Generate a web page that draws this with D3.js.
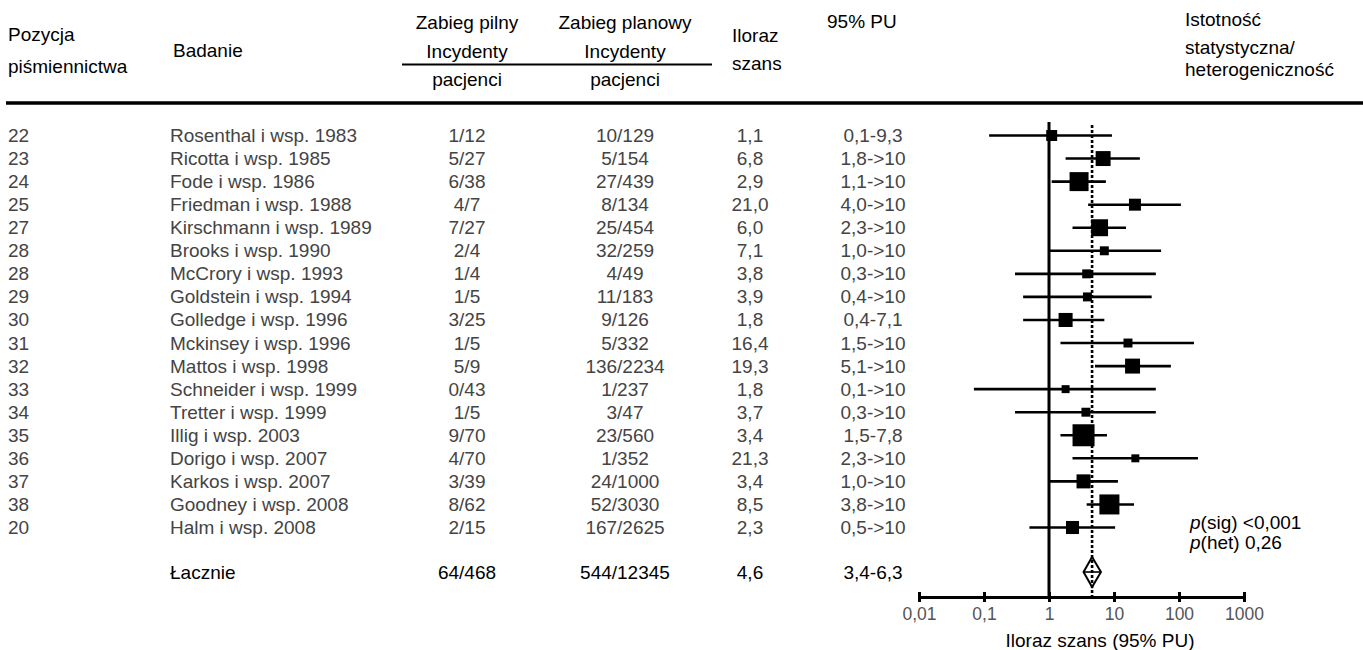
<!DOCTYPE html>
<html lang="pl">
<head>
<meta charset="utf-8">
<script src="https://cdn.jsdelivr.net/npm/d3@7/dist/d3.min.js"></script>
<style>
  html, body { margin: 0; padding: 0; background: #fff; }
  svg { display: block; }
  .hdr { font-family: "Liberation Sans", Arial, sans-serif; font-size: 19px; fill: #000; }
  .row { font-family: "Liberation Sans", Arial, sans-serif; font-size: 19px; fill: #444; }
  .tick text { font-family: "Liberation Sans", Arial, sans-serif; font-size: 17.5px; fill: #555; }
</style>
</head>
<body>
<svg id="chart" width="1363" height="650"></svg>
<script>
// Study table
const refs = ["22","23","24","25","27","28","28","29","30","31","32","33","34","35","36","37","38","20"];
const studies = [
  "Rosenthal i wsp. 1983","Ricotta i wsp. 1985","Fode i wsp. 1986","Friedman i wsp. 1988",
  "Kirschmann i wsp. 1989","Brooks i wsp. 1990","McCrory i wsp. 1993","Goldstein i wsp. 1994",
  "Golledge i wsp. 1996","Mckinsey i wsp. 1996","Mattos i wsp. 1998","Schneider i wsp. 1999",
  "Tretter i wsp. 1999","Illig i wsp. 2003","Dorigo i wsp. 2007","Karkos i wsp. 2007",
  "Goodney i wsp. 2008","Halm i wsp. 2008"
];
const urgentEvents = ["1/12","5/27","6/38","4/7","7/27","2/4","1/4","1/5","3/25","1/5","5/9","0/43","1/5","9/70","4/70","3/39","8/62","2/15"];
const electiveEvents = ["10/129","5/154","27/439","8/134","25/454","32/259","4/49","11/183","9/126","5/332","136/2234","1/237","3/47","23/560","1/352","24/1000","52/3030","167/2625"];
const oddsRatios = [1.1, 6.8, 2.9, 21.0, 6.0, 7.1, 3.8, 3.9, 1.8, 16.4, 19.3, 1.8, 3.7, 3.4, 21.3, 3.4, 8.5, 2.3];
const ciLower = [0.12, 1.8, 1.1, 4.0, 2.3, 1.0, 0.3, 0.4, 0.4, 1.5, 5.1, 0.07, 0.3, 1.5, 2.3, 1.0, 3.8, 0.5];
const ciUpper = [9.3, 25, 7.5, 107, 15.3, 53, 44, 38, 7.1, 170, 75, 44, 44, 7.8, 196, 11.5, 20.3, 10.4];
const ciLabels = ["0,1-9,3","1,8->10","1,1->10","4,0->10","2,3->10","1,0->10","0,3->10","0,4->10","0,4-7,1","1,5->10","5,1->10","0,1->10","0,3->10","1,5-7,8","2,3->10","1,0->10","3,8->10","0,5->10"];
const weights = [3.6, 6.7, 10.8, 4.3, 8.6, 2.4, 2.4, 2.4, 5.9, 2.4, 6.7, 1.9, 2.4, 14.5, 1.9, 5.9, 12.0, 5.1];

// Pooled estimate
const pooledLabel = "Łacznie";
const pooledUrgent = "64/468";
const pooledElective = "544/12345";
const pooledOR = 4.6;
const pooledLower = 3.4;
const pooledUpper = 6.3;
const pooledCILabel = "3,4-6,3";
const pSig = "<0,001";
const pHet = "0,26";

// Axis ticks
const axisTicks = [0.01, 0.1, 1, 10, 100, 1000];
const axisTitle = "Iloraz szans (95% PU)";

const plLocale = d3.formatLocale({ decimal: ",", thousands: "\u00a0", grouping: [3], currency: ["", " zł"] });
const fmtOR = plLocale.format(".1f");
const fmtTick = plLocale.format("~g");

const svg = d3.select("#chart");

// Scales
const x = d3.scaleLog().domain([0.01, 1000]).range([919, 1244]);
const y = d3.scaleLinear().domain([0, studies.length - 1]).range([135.5, 527.5]);
const yPooled = 572;
const side = d3.scaleSqrt().domain([0, d3.max(weights)]).range([0, 22]);

// Column positions
const col = { ref: 8, study: 170, urgent: 467, elective: 625, or: 750, ci: 873 };

// ---- Header ----
const hdr = svg.append("g").attr("class", "hdr");
const hText = (t, xx, yy, anchor = "start") =>
  hdr.append("text").attr("x", xx).attr("y", yy).attr("text-anchor", anchor)
     .attr("dominant-baseline", "central").text(t);
hText("Pozycja", col.ref, 34);
hText("piśmiennictwa", col.ref, 66);
hText("Badanie", 173, 50);
hText("Zabieg pilny", col.urgent, 22, "middle");
hText("Incydenty", col.urgent, 51, "middle");
hText("pacjenci", col.urgent, 79, "middle");
hText("Zabieg planowy", col.elective, 22, "middle");
hText("Incydenty", col.elective, 51, "middle");
hText("pacjenci", col.elective, 79, "middle");
hText("Iloraz", 732, 35);
hText("szans", 732, 63);
hText("95% PU", 827, 21);
hText("Istotność", 1185, 19);
hText("statystyczna/", 1185, 47);
hText("heterogeniczność", 1185, 69);

svg.append("line").attr("x1", 402).attr("x2", 712).attr("y1", 64.5).attr("y2", 64.5)
   .attr("stroke", "#000").attr("stroke-width", 2);
svg.append("line").attr("x1", 6).attr("x2", 1363).attr("y1", 103).attr("y2", 103)
   .attr("stroke", "#000").attr("stroke-width", 3.5);

// ---- Study rows ----
const rows = svg.append("g").attr("class", "row");
studies.forEach((s, i) => {
  const g = rows.append("g").attr("transform", `translate(0,${y(i)})`);
  const t = (txt, xx, anchor) => g.append("text").attr("x", xx).attr("text-anchor", anchor)
      .attr("dominant-baseline", "central").text(txt);
  t(refs[i], col.ref, "start");
  t(s, col.study, "start");
  t(urgentEvents[i], col.urgent, "middle");
  t(electiveEvents[i], col.elective, "middle");
  t(fmtOR(oddsRatios[i]), col.or, "middle");
  t(ciLabels[i], col.ci, "middle");
});

// Pooled row text
const pr = svg.append("g").attr("class", "hdr").attr("transform", `translate(0,${yPooled})`);
[[pooledLabel, col.study, "start"], [pooledUrgent, col.urgent, "middle"],
 [pooledElective, col.elective, "middle"], [fmtOR(pooledOR), col.or, "middle"],
 [pooledCILabel, col.ci, "middle"]].forEach(([t, xx, a]) =>
  pr.append("text").attr("x", xx).attr("text-anchor", a).attr("dominant-baseline", "central").text(t));

// ---- Forest plot ----
const axisY = 597;
const plot = svg.append("g");

// Line of no effect
plot.append("line").attr("x1", x(1)).attr("x2", x(1)).attr("y1", 122).attr("y2", axisY)
    .attr("stroke", "#000").attr("stroke-width", 3);

// Confidence intervals
plot.selectAll("line.ci").data(studies).join("line").attr("class", "ci")
  .attr("x1", (d, i) => x(ciLower[i])).attr("x2", (d, i) => x(ciUpper[i]))
  .attr("y1", (d, i) => y(i)).attr("y2", (d, i) => y(i))
  .attr("stroke", "#000").attr("stroke-width", 2.6);

// Pooled diamond
const dh = 15;
const diamond = d3.path();
diamond.moveTo(x(pooledLower), yPooled);
diamond.lineTo(x(pooledOR), yPooled - dh);
diamond.lineTo(x(pooledUpper), yPooled);
diamond.lineTo(x(pooledOR), yPooled + dh);
diamond.closePath();
plot.append("path").attr("d", diamond.toString()).attr("fill", "#fff")
    .attr("stroke", "#000").attr("stroke-width", 2);
plot.append("line").attr("x1", x(pooledLower)).attr("x2", x(pooledUpper))
    .attr("y1", yPooled).attr("y2", yPooled).attr("stroke", "#000").attr("stroke-width", 1.6);

// Pooled estimate reference line
plot.append("line").attr("x1", x(pooledOR)).attr("x2", x(pooledOR)).attr("y1", 125).attr("y2", axisY)
    .attr("stroke", "#000").attr("stroke-width", 2.6).attr("stroke-dasharray", "3,2");

// Study weights as squares
plot.selectAll("rect.w").data(studies).join("rect").attr("class", "w")
  .attr("x", (d, i) => x(oddsRatios[i]) - side(weights[i]) / 2)
  .attr("y", (d, i) => y(i) - side(weights[i]) / 2)
  .attr("width", (d, i) => side(weights[i]))
  .attr("height", (d, i) => side(weights[i]))
  .attr("fill", "#000");

// X axis
const axis = d3.axisBottom(x).tickValues(axisTicks).tickFormat(fmtTick).tickSize(0).tickPadding(10);
const ax = svg.append("g").attr("transform", `translate(0,${axisY})`).call(axis);
ax.select(".domain").attr("stroke", "#000").attr("stroke-width", 3);
ax.selectAll(".tick line").attr("y1", -5).attr("y2", 5).attr("stroke", "#000").attr("stroke-width", 3);
ax.selectAll(".tick text").attr("y", 17).attr("dy", null).attr("dominant-baseline", "central");

svg.append("text").attr("class", "hdr").attr("x", 1100).attr("y", 640)
   .attr("text-anchor", "middle").attr("dominant-baseline", "central").text(axisTitle);

// Significance / heterogeneity
const stats = svg.append("g").attr("class", "hdr");
const sig = stats.append("text").attr("x", 1190).attr("y", 522).attr("dominant-baseline", "central");
sig.append("tspan").attr("font-style", "italic").text("p");
sig.append("tspan").text("(sig) " + pSig);
const het = stats.append("text").attr("x", 1190).attr("y", 542).attr("dominant-baseline", "central");
het.append("tspan").attr("font-style", "italic").text("p");
het.append("tspan").text("(het) " + pHet);
</script>
</body>
</html>
